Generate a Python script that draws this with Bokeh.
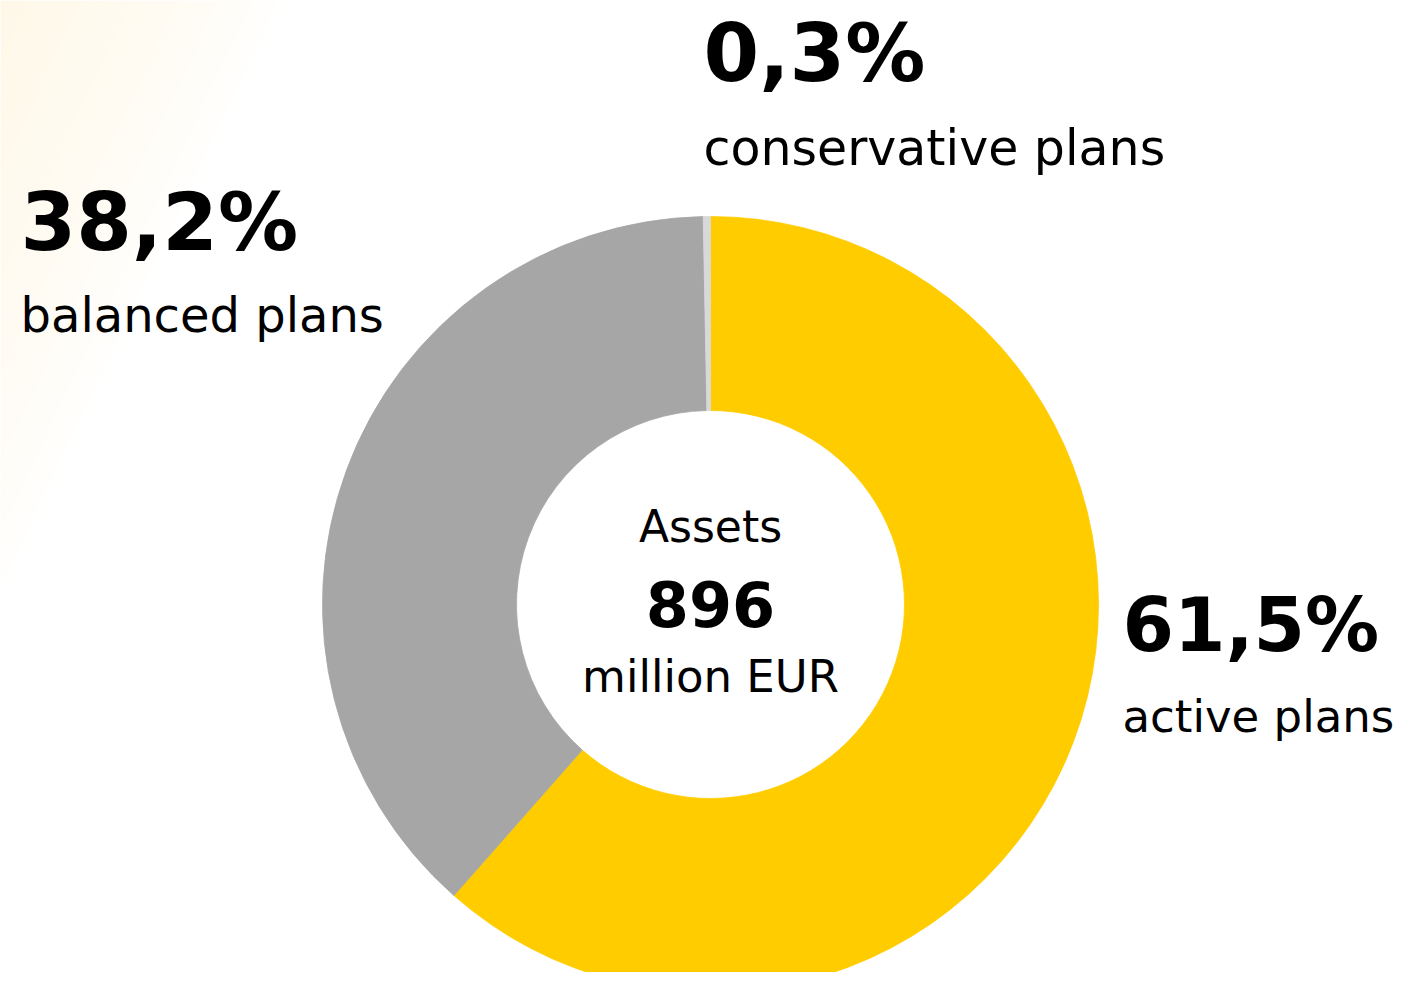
import numpy as np
from bokeh.plotting import figure
from bokeh.models import Range1d, ColumnDataSource
from bokeh.core.properties import value
from bokeh.embed import file_html
from bokeh.resources import INLINE

# ---- data ----
categories = ["active plans", "balanced plans", "conservative plans"]
shares = [61.5, 38.2, 0.3]
colors = ["#FFCC00", "#A6A6A6", "#D9D9D9"]
center_title = "Assets"
total_assets = 896
center_unit = "million EUR"

# ---- layout (pixel coordinates from the top-left of the picture) ----
W, H = 1398, 972
K = 0.38  # baseline correction (fraction of font size)

def sy(y):  # screen y -> data y
    return H - y

def base(y, size):  # desired baseline (screen) -> data y for text glyph
    return H - (y - K * size)

cx, cy = 710, 604
r_out, r_in = 388, 194
# label anchors: left x, baseline of percentage, baseline of name, pct size, name size
label_pos = {
    "active plans": (1122, 653, 733, 74, 45),
    "balanced plans": (20, 252, 333, 80, 48),
    "conservative plans": (703, 83, 167, 80, 49),
}

p = figure(width=W, height=H, output_backend="svg", toolbar_location=None,
           x_range=Range1d(0, W), y_range=Range1d(0, H),
           min_border=0, outline_line_color=None,
           x_axis_location=None, y_axis_location=None,
           background_fill_color="white", border_fill_color="white")
p.grid.visible = False

# ---- subtle warm gradient in the top-left corner (decoration) ----
gw, gh = 300, 620
xs = np.arange(gw)
ys_screen = gh - 1 - np.arange(gh)  # row 0 = bottom
X, Y = np.meshgrid(xs, ys_screen)
t = X / 285.0 + Y / 600.0
alpha = np.clip(1 - t, 0, 1) ** 0.7
img = np.zeros((gh, gw), dtype=np.uint32)
view = img.view(dtype=np.uint8).reshape((gh, gw, 4))
view[:, :, 0] = 255
view[:, :, 1] = 238
view[:, :, 2] = 200
view[:, :, 3] = (alpha * 105).astype(np.uint8)
p.image_rgba(image=[img], x=0, y=sy(gh), dw=gw, dh=gh)

# ---- donut ----
fr = np.array(shares) / sum(shares)
cum = np.concatenate([[0], np.cumsum(fr)])
start = np.pi / 2 - 2 * np.pi * cum[:-1]
end = np.pi / 2 - 2 * np.pi * cum[1:]
src = ColumnDataSource(dict(cat=categories, start=start, end=end, color=colors))
p.annular_wedge(x=cx, y=sy(cy), inner_radius=r_in, outer_radius=r_out,
                start_angle="start", end_angle="end", direction="clock",
                fill_color="color", line_color="color", line_width=0.8, source=src)

FONT = value("DejaVu Sans")

# ---- slice labels ----
for cat, sh in zip(categories, shares):
    lx, b1, b2, psize, nsize = label_pos[cat]
    pct = f"{sh:.1f}".replace(".", ",") + "%"
    p.text(x=[lx], y=[base(b1, psize)], text=[pct], text_font=FONT,
           text_font_size=f"{psize}px", text_font_style="bold", text_color="#000000",
           text_baseline="alphabetic", text_align="left")
    p.text(x=[lx], y=[base(b2, nsize)], text=[cat], text_font=FONT,
           text_font_size=f"{nsize}px", text_color="#000000",
           text_baseline="alphabetic", text_align="left")

# ---- center labels ----
p.text(x=[cx], y=[base(543, 44)], text=[center_title], text_font=FONT, text_font_size="44px",
       text_color="#000000", text_baseline="alphabetic", text_align="center")
p.text(x=[cx], y=[base(627, 62)], text=[str(total_assets)], text_font=FONT, text_font_size="62px",
       text_font_style="bold", text_color="#000000", text_baseline="alphabetic", text_align="center")
p.text(x=[cx], y=[base(693, 45)], text=[center_unit], text_font=FONT, text_font_size="45px",
       text_color="#000000", text_baseline="alphabetic", text_align="center")

open("out.html", "w").write(file_html(p, INLINE))
